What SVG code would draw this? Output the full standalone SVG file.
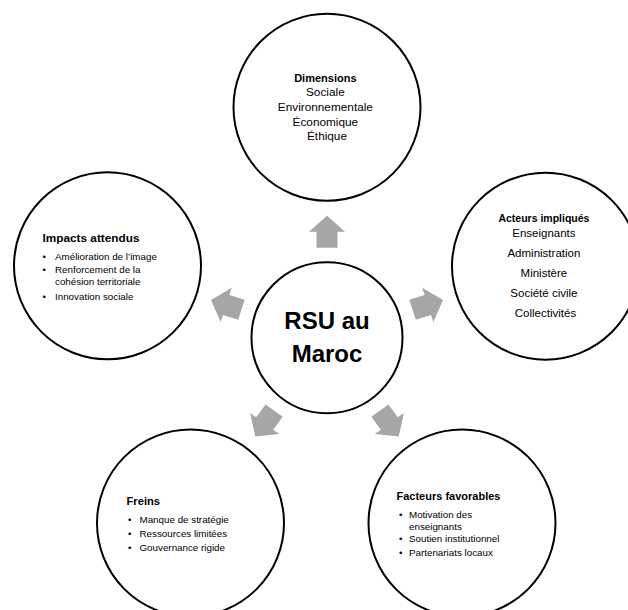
<svg xmlns="http://www.w3.org/2000/svg" width="628" height="610" viewBox="0 0 628 610">
<defs>
<style>
.c{fill:#fff;stroke:#000;stroke-width:2}
.t{font-family:"Liberation Sans",Arial,sans-serif;fill:#000}
.b{font-weight:bold}
.m{text-anchor:middle}
.a{fill:#A6A6A6}
</style>
<path id="arr" d="M0,-16 L18,0 L10.5,0 L10.5,16 L-10.5,16 L-10.5,0 L-18,0 Z"/>
</defs>
<rect width="628" height="610" fill="#fff"/>
<g id="connectors" class="a">
<use href="#arr" transform="translate(327,231.7)"/>
<use href="#arr" transform="translate(427.8,304.9) rotate(72)"/>
<use href="#arr" transform="translate(389.3,423.5) rotate(144)"/>
<use href="#arr" transform="translate(264.7,423.5) rotate(216)"/>
<use href="#arr" transform="translate(226.2,304.9) rotate(288)"/>
</g>
<g id="center">
<circle class="c" cx="327" cy="337.7" r="75.5"/>
<text class="t b m" x="327" y="328.5" font-size="24">RSU au</text>
<text class="t b m" x="327" y="361.7" font-size="24">Maroc</text>
</g>
<g id="dimensions">
<circle class="c" cx="327" cy="107.3" r="93.5"/>
<text class="t m" font-size="11.8">
<tspan class="b" x="327" y="82" font-size="11">Dimensions</tspan>
<tspan x="327" y="96">Sociale</tspan>
<tspan x="327" y="111">Environnementale</tspan>
<tspan x="327" y="125.5">Économique</tspan>
<tspan x="327" y="140">Éthique</tspan>
</text>
</g>
<g id="acteurs">
<circle class="c" cx="545.5" cy="266.2" r="93.5"/>
<text class="t m" font-size="11.5">
<tspan class="b" x="545.5" y="222" font-size="10.5">Acteurs impliqués</tspan>
<tspan x="545.5" y="237">Enseignants</tspan>
<tspan x="545.5" y="257">Administration</tspan>
<tspan x="545.5" y="277">Ministère</tspan>
<tspan x="545.5" y="297">Société civile</tspan>
<tspan x="545.5" y="317">Collectivités</tspan>
</text>
</g>
<g id="impacts">
<circle class="c" cx="107.5" cy="265.8" r="93.5"/>
<text class="t b" x="42.5" y="242" font-size="11.8">Impacts attendus</text>
<text class="t" font-size="9.8">
<tspan x="42.5" y="260">•</tspan><tspan x="55" y="260">Amélioration de l’image</tspan>
<tspan x="42.5" y="273">•</tspan><tspan x="55" y="273">Renforcement de la</tspan>
<tspan x="55" y="284.5">cohésion territoriale</tspan>
<tspan x="42.5" y="300">•</tspan><tspan x="55" y="300">Innovation sociale</tspan>
</text>
</g>
<g id="freins">
<circle class="c" cx="190.5" cy="523" r="93.5"/>
<text class="t b" x="126.5" y="505" font-size="11.2">Freins</text>
<text class="t" font-size="9.8">
<tspan x="128" y="523">•</tspan><tspan x="139.5" y="523">Manque de stratégie</tspan>
<tspan x="128" y="537">•</tspan><tspan x="139.5" y="537">Ressources limitées</tspan>
<tspan x="128" y="551">•</tspan><tspan x="139.5" y="551">Gouvernance rigide</tspan>
</text>
</g>
<g id="facteurs">
<circle class="c" cx="462" cy="523" r="93.5"/>
<text class="t b" x="396.5" y="499.5" font-size="11">Facteurs favorables</text>
<text class="t" font-size="9.8">
<tspan x="399" y="518">•</tspan><tspan x="409" y="518">Motivation des</tspan>
<tspan x="409" y="529.5">enseignants</tspan>
<tspan x="399" y="542">•</tspan><tspan x="409" y="542">Soutien institutionnel</tspan>
<tspan x="399" y="556">•</tspan><tspan x="409" y="556">Partenariats locaux</tspan>
</text>
</g>
</svg>
